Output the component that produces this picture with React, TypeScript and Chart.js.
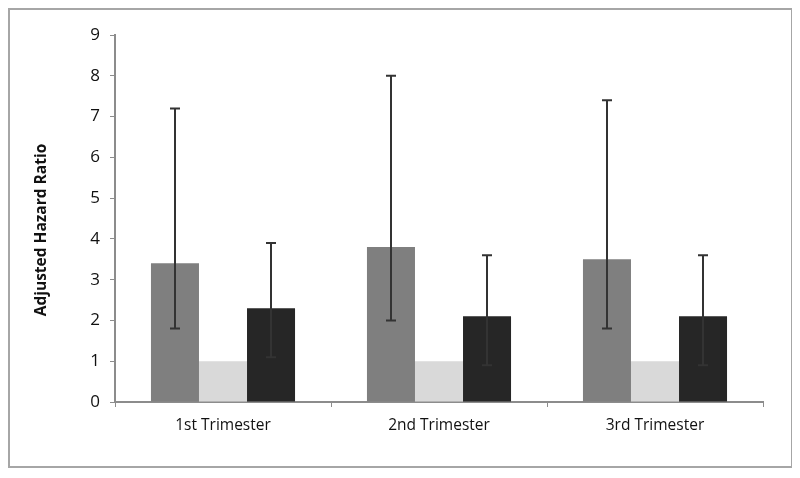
import React, { useEffect, useRef } from "react";
import { Chart, registerables } from "chart.js";

Chart.register(...registerables);

const categories = ["1st Trimester", "2nd Trimester", "3rd Trimester"];
const seriesA = [3.4, 3.8, 3.5];
const seriesALow = [1.8, 2.0, 1.8];
const seriesAHigh = [7.2, 8.0, 7.4];
const seriesB = [1.0, 1.0, 1.0];
const seriesC = [2.3, 2.1, 2.1];
const seriesCLow = [1.1, 0.9, 0.9];
const seriesCHigh = [3.9, 3.6, 3.6];
const yTicks = [0, 1, 2, 3, 4, 5, 6, 7, 8, 9];
const yTitle = "Adjusted Hazard Ratio";

const errorBars: Record<number, { low: number[]; high: number[] }> = {
  0: { low: seriesALow, high: seriesAHigh },
  2: { low: seriesCLow, high: seriesCHigh },
};

const errorPlugin = {
  id: "errorBars",
  afterDatasetsDraw(chart: any) {
    const ctx = chart.ctx;
    const y = chart.scales.y;
    ctx.save();
    ctx.strokeStyle = "#333333";
    ctx.lineWidth = 2;
    Object.keys(errorBars).forEach((k) => {
      const di = Number(k);
      const meta = chart.getDatasetMeta(di);
      const eb = errorBars[di];
      meta.data.forEach((bar: any, i: number) => {
        const x = Math.round(bar.x);
        const yl = y.getPixelForValue(eb.low[i]);
        const yh = y.getPixelForValue(eb.high[i]);
        ctx.beginPath();
        ctx.moveTo(x, yl);
        ctx.lineTo(x, yh);
        ctx.moveTo(x - 5, yl);
        ctx.lineTo(x + 5, yl);
        ctx.moveTo(x - 5, yh);
        ctx.lineTo(x + 5, yh);
        ctx.stroke();
      });
    });
    ctx.restore();
  },
};

const titlePlugin = {
  id: "yTitle",
  afterDraw(chart: any) {
    const ctx = chart.ctx;
    ctx.save();
    ctx.translate(32, 220);
    ctx.rotate(-Math.PI / 2);
    ctx.font = "bold 15.5px 'Open Sans'";
    ctx.fillStyle = "#111111";
    ctx.textAlign = "center";
    ctx.textBaseline = "middle";
    ctx.fillText(yTitle, 0, 0);
    ctx.restore();
  },
};

export default function App() {
  const ref = useRef<HTMLCanvasElement>(null);
  useEffect(() => {
    if (!ref.current) return;
    const chart = new Chart(ref.current, {
      type: "bar",
      data: {
        labels: categories,
        datasets: [
          { data: seriesA, backgroundColor: "#7f7f7f", categoryPercentage: 0.667, barPercentage: 1 },
          { data: seriesB, backgroundColor: "#d9d9d9", categoryPercentage: 0.667, barPercentage: 1 },
          { data: seriesC, backgroundColor: "#262626", categoryPercentage: 0.667, barPercentage: 1 },
        ],
      },
      options: {
        responsive: false,
        animation: false,
        layout: { padding: { top: 25, right: 28, left: 0, bottom: 0 } },
        plugins: { legend: { display: false }, tooltip: { enabled: false } },
        scales: {
          x: {
            grid: {
              offset: true,
              drawOnChartArea: false,
              drawTicks: true,
              tickLength: 5,
              color: "#8c8c8c",
            },
            border: { color: "#8c8c8c", width: 2 },
            ticks: {
              padding: 9,
              color: "#111111",
              font: { family: "'Open Sans'", size: 15.5 },
            },
            afterFit(s: any) {
              s.height = 64;
            },
          },
          y: {
            min: 0,
            max: 9,
            afterBuildTicks(s: any) {
              s.ticks = yTicks.map((v) => ({ value: v }));
            },
            grid: {
              drawOnChartArea: false,
              drawTicks: true,
              tickLength: 5,
              color: "#8c8c8c",
            },
            border: { color: "#8c8c8c", width: 2 },
            ticks: {
              padding: 10,
              color: "#111111",
              font: { family: "'Open Sans'", size: 17 },
            },
            afterFit(s: any) {
              s.width = 105;
            },
          },
        },
      },
      plugins: [errorPlugin, titlePlugin],
    } as any);
    return () => chart.destroy();
  }, []);
  return (
    <div
      style={{
        boxSizing: "border-box",
        width: 785,
        height: 460,
        border: "2px solid #a6a6a6",
        background: "#ffffff",
      }}
    >
      <canvas ref={ref} width={781} height={456} style={{ display: "block" }} />
    </div>
  );
}
